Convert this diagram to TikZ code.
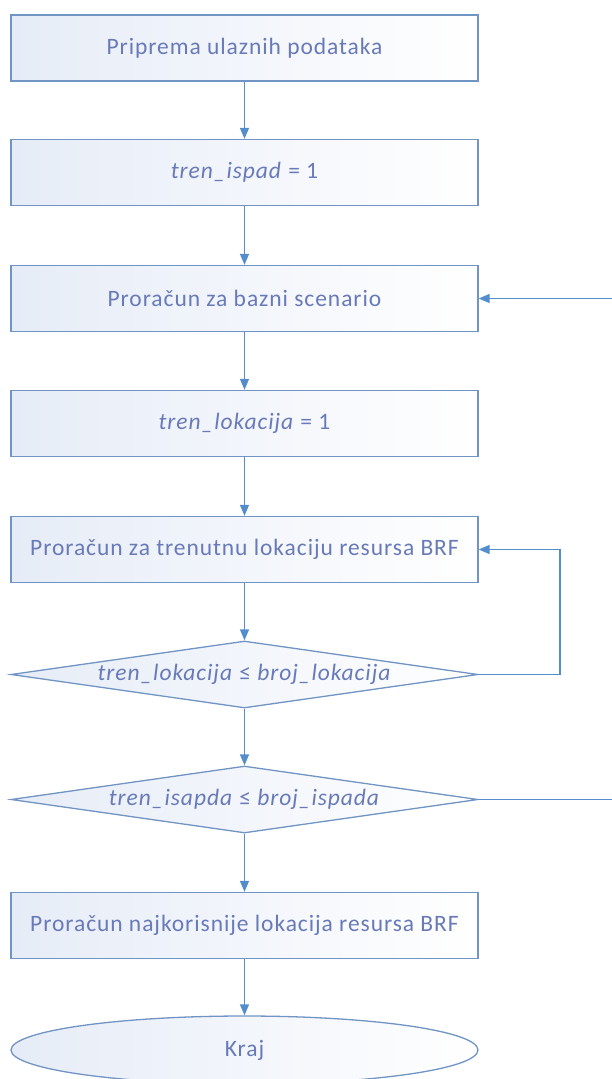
\documentclass[tikz,border=0pt]{standalone}
\usepackage{fontspec}
\setmainfont{Carlito}[LetterSpace=4]
\usetikzlibrary{arrows.meta,shapes.geometric}
\definecolor{edge}{RGB}{112,148,196}
\definecolor{arr}{RGB}{84,141,204}
\definecolor{txt}{RGB}{104,122,184}
\definecolor{fillc}{RGB}{230,236,247}
\tikzset{
  base/.style={draw=edge, line width=1.3pt, left color=fillc, right color=white,
    inner sep=0pt, text=txt, font=\fontsize{23.5}{26}\selectfont},
  procbox/.style={base, minimum width=467pt, minimum height=66pt},
  decbox/.style={base, diamond, minimum width=467pt, minimum height=67pt, aspect=7},
  endbox/.style={base, ellipse, minimum width=467pt, minimum height=68pt},
  flow/.style={draw=arr, line width=1.3pt, -{Triangle[length=11pt,width=9pt]}},
  plain/.style={draw=arr, line width=1.3pt}
}
\begin{document}
\begin{tikzpicture}[x=1pt,y=-1pt]
\useasboundingbox (0,0) rectangle (612,1079);
\clip (0,0) rectangle (612,1079);
\node[procbox] (n1) at (244.5,48) {Priprema ulaznih podataka};
\node[procbox] (n2) at (244.5,172.5) {\textit{tren\_ispad} = 1};
\node[procbox] (n3) at (244.5,298.5) {Proračun za bazni scenario};
\node[procbox] (n4) at (244.5,423.5) {\textit{tren\_lokacija} = 1};
\node[procbox] (n5) at (244.5,549.5) {Proračun za trenutnu lokaciju resursa BRF};
\node[decbox] (d1) at (244.5,674.5) {\textit{tren\_lokacija} ≤\ \textit{broj\_lokacija}};
\node[decbox] (d2) at (244.5,799.5) {\textit{tren\_isapda} ≤\ \textit{broj\_ispada}};
\node[procbox] (n6) at (244.5,925.5) {Proračun najkorisnije lokacija resursa BRF};
\node[endbox] (e) at (244.5,1050) {Kraj};
\coordinate (r1) at (560,674.5);
\coordinate (r2) at (560,549.5);
\coordinate (o1) at (615,799.5);
\coordinate (o2) at (615,298.5);
\draw[flow] (n1) -- (n2);
\draw[flow] (n2) -- (n3);
\draw[flow] (n3) -- (n4);
\draw[flow] (n4) -- (n5);
\draw[flow] (n5) -- (d1);
\draw[flow] (d1) -- (d2);
\draw[flow] (d2) -- (n6);
\draw[flow] (n6) -- (e);
\draw[flow] (d1.east) -- (r1) -- (r2) -- (n5.east);
\draw[plain] (d2.east) -- (o1);
\draw[flow] (o2) -- (n3.east);
\end{tikzpicture}
\end{document}
